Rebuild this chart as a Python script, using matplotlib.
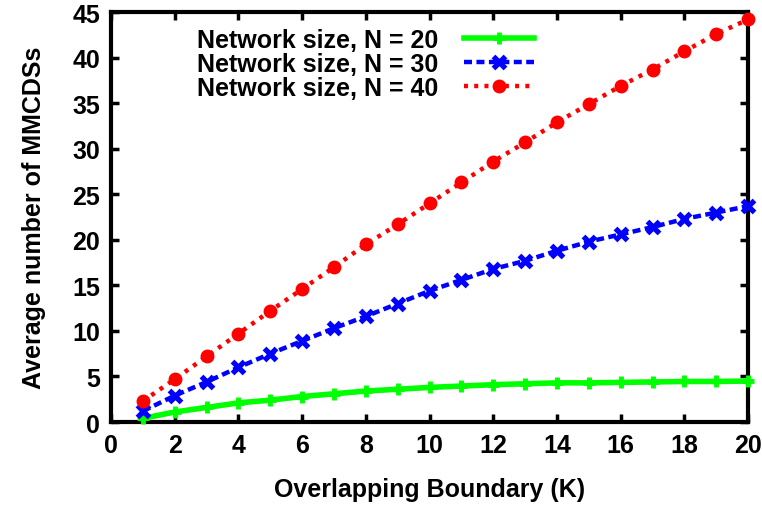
import matplotlib
matplotlib.use("Agg")
import matplotlib.pyplot as plt

plt.rcParams['font.family'] = ['Liberation Sans', 'DejaVu Sans']
plt.rcParams['font.weight'] = 'bold'

k = list(range(1, 21))
n20 = [0.4, 1.1, 1.6, 2.1, 2.4, 2.8, 3.1, 3.4, 3.6, 3.8, 3.95, 4.1, 4.2, 4.3, 4.3, 4.35, 4.4, 4.45, 4.45, 4.5]
n30 = [1.2, 2.9, 4.4, 6.0, 7.5, 8.9, 10.3, 11.6, 13.0, 14.4, 15.6, 16.8, 17.7, 18.8, 19.8, 20.6, 21.4, 22.3, 23.0, 23.7]
n40 = [2.3, 4.7, 7.2, 9.7, 12.2, 14.6, 17.0, 19.5, 21.7, 24.0, 26.3, 28.6, 30.7, 32.9, 34.9, 36.9, 38.7, 40.7, 42.6, 44.2]
labels = ['Network size, N = 20', 'Network size, N = 30', 'Network size, N = 40']

FS = 18

fig = plt.figure(figsize=(7.62, 5.06), dpi=100)
ax = fig.add_axes([0.1457, 0.164, 0.836, 0.810])

ax.plot(k, n20, color='#00ff00', lw=4, ls='-', marker='+', ms=9, mew=3.5,
        label=labels[0], clip_on=False, zorder=3)
ax.plot(k, n30, color='#0000ff', lw=3.2, ls=(0, (1.8, 1.0)), dash_capstyle='butt',
        marker='x', ms=8.5, mew=3.8, label=labels[1], clip_on=False, zorder=4)
ax.plot(k, n40, color='#ff0000', lw=3.2, ls=(0, (0.9, 1.4)), dash_capstyle='butt',
        marker='o', ms=10, mew=0, label=labels[2], clip_on=False, zorder=5)

ax.set_xlim(0, 20)
ax.set_ylim(0, 45)
ax.set_xticks(range(0, 21, 2))
ax.set_yticks(range(0, 46, 5))
ax.tick_params(direction='in', length=6, width=2.5, top=True, right=True,
               labelsize=FS, pad=8)
for s in ax.spines.values():
    s.set_linewidth(3)

ax.set_xlabel('Overlapping Boundary (K)', fontsize=FS, fontweight='bold', labelpad=14)
ax.set_ylabel('Average number of MMCDSs', fontsize=FS, fontweight='bold', labelpad=19)

ax.legend(loc='upper left', bbox_to_anchor=(0.104, 1.01), frameon=False, markerfirst=False,
          handlelength=2.8, handletextpad=1.0, labelspacing=0.0, borderpad=0.3,
          prop={'weight': 'bold', 'size': FS})

fig.savefig('out.png', dpi=100)
